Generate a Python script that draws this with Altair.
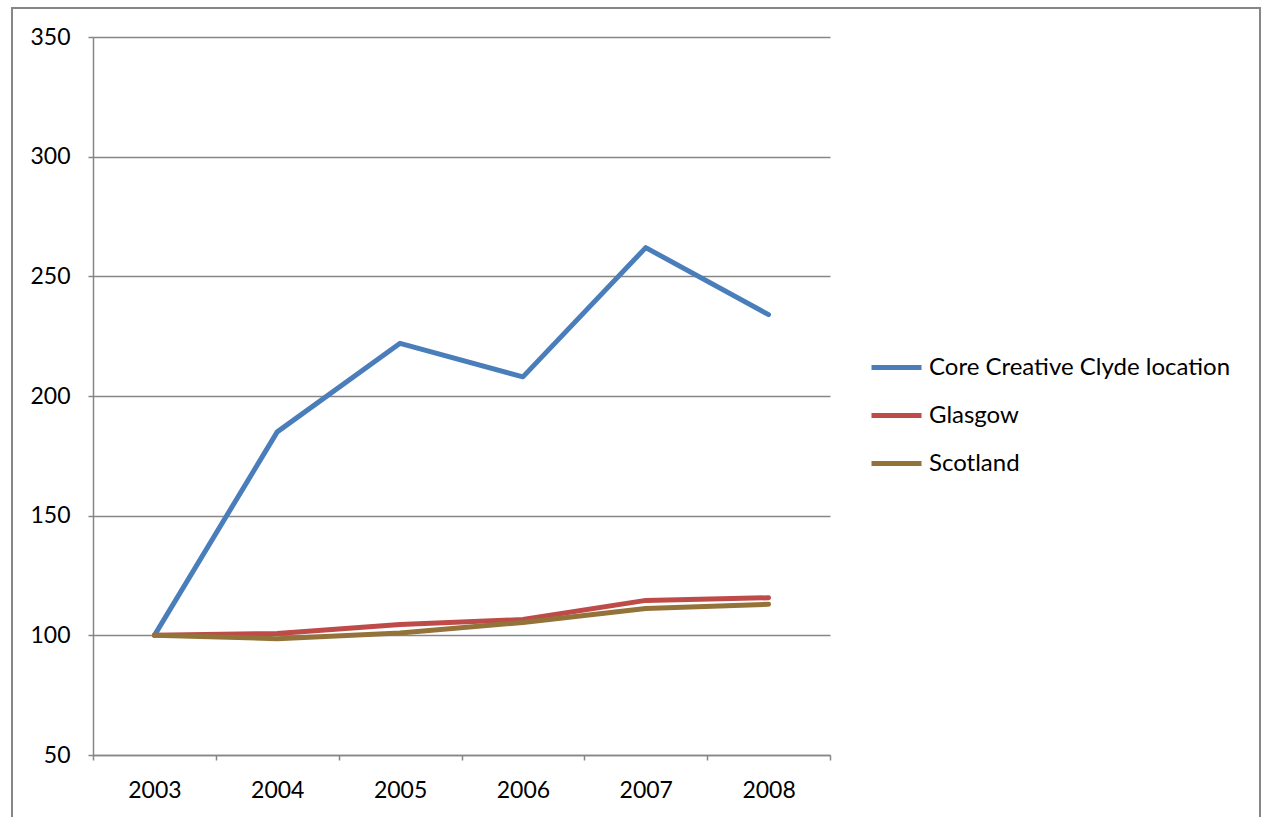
import altair as alt
import pandas as pd

years = [2003, 2004, 2005, 2006, 2007, 2008]
series_names = ["Core Creative Clyde location", "Glasgow", "Scotland"]
core = [100, 185, 222, 208, 262, 234]
glasgow = [100, 100.8, 104.5, 106.6, 114.6, 115.7]
scotland = [100, 98.6, 101, 105.4, 111.2, 113]
colors = ["#4A7EBB", "#BE4B48", "#94733A"]
y_ticks = [50, 100, 150, 200, 250, 300, 350]

rows = []
for name, vals in zip(series_names, [core, glasgow, scotland]):
    for yr, v in zip(years, vals):
        rows.append({"series": name, "year": yr, "value": v})
df = pd.DataFrame(rows)

W, H = 737, 718
FONT = "Lato"
GREY = "#868686"

x_tick_vals = [y - 0.5 for y in years] + [years[-1] + 0.5]

lines = alt.Chart(df).mark_line(strokeWidth=5, strokeCap="round", strokeJoin="round", clip=False).encode(
    x=alt.X("year:Q",
            scale=alt.Scale(domain=[years[0] - 0.5, years[-1] + 0.5], nice=False, zero=False),
            axis=alt.Axis(values=x_tick_vals, title=None, grid=False,
                          labelExpr=f"datum.value < {years[-1]} ? format(datum.value + 0.5, 'd') : ''",
                          labelOffset=W / 12, labelAlign="center", labelOverlap=False, labelFlush=False,
                          tickSize=5, tickColor=GREY, tickWidth=1.5,
                          domainColor=GREY, domainWidth=1.5,
                          labelFont=FONT, labelFontSize=23, labelColor="#000000", labelPadding=19)),
    y=alt.Y("value:Q",
            scale=alt.Scale(domain=[50, 350], nice=False, zero=False),
            axis=alt.Axis(values=y_ticks, title=None, grid=True, gridColor=GREY, gridWidth=1.5,
                          tickSize=5, tickColor=GREY, tickWidth=1.5,
                          domainColor=GREY, domainWidth=1.5,
                          labelFont=FONT, labelFontSize=23, labelColor="#000000", labelPadding=18)),
    color=alt.Color("series:N",
                    scale=alt.Scale(domain=series_names, range=colors),
                    sort=series_names,
                    legend=alt.Legend(title=None, orient="none", legendX=776, legendY=303,
                                      symbolType="stroke", symbolSize=2500, symbolStrokeWidth=5,
                                      labelFont=FONT, labelFontSize=24, labelColor="#000000",
                                      labelOffset=5, rowPadding=8, padding=0,
                                      labelLimit=400)),
)

border_df = pd.DataFrame({"k": [0]})
border = alt.Chart(border_df).mark_rect(fill=None, stroke=GREY, strokeWidth=2, clip=False).encode(
    x=alt.value(-81), x2=alt.value(1167), y=alt.value(-29), y2=alt.value(800)
)

chart = alt.layer(border, lines).properties(
    width=W, height=H,
    autosize=alt.AutoSizeParams(type="none"),
    padding={"left": 93, "top": 37, "right": 1263 - 93 - W, "bottom": 817 - 37 - H},
    background="#ffffff",
).configure_view(stroke=None)

chart.save("out.html", embed_options={"renderer": "svg", "actions": False})
